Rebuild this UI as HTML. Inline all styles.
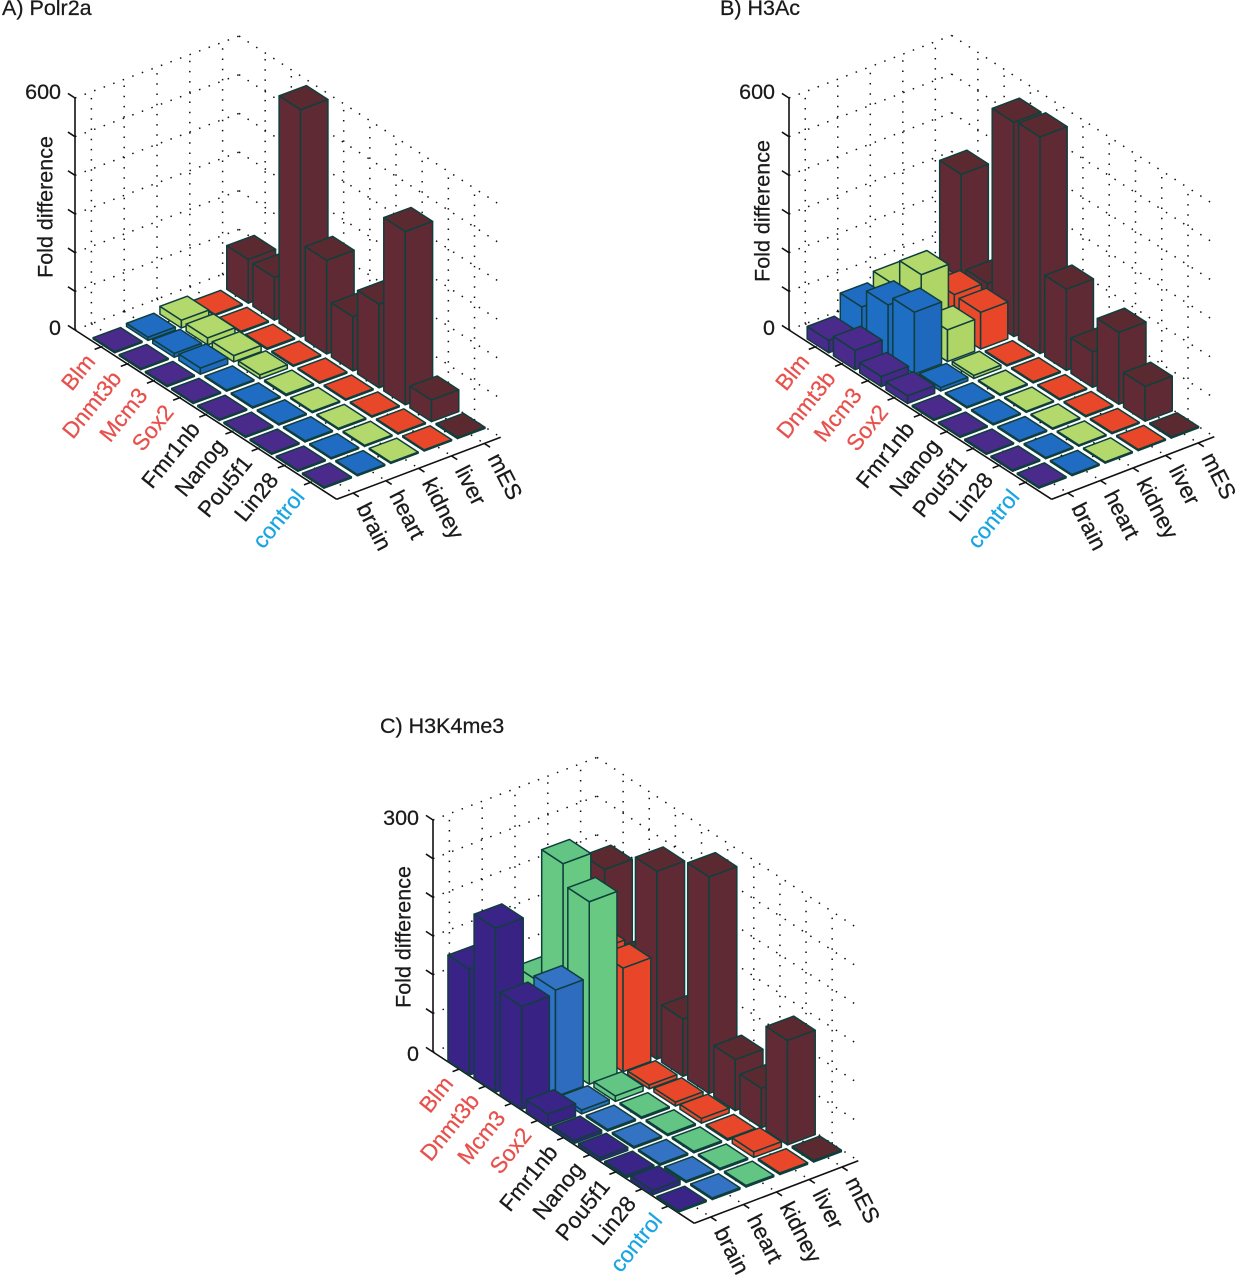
<!DOCTYPE html>
<html lang="en">
<head>
<meta charset="utf-8">
<title>Fold difference 3D bar charts</title>
<style>
html,body{margin:0;padding:0;background:#fff;}
body{width:1235px;height:1280px;overflow:hidden;}
svg{display:block;}
text{font-family:"Liberation Sans",sans-serif;fill:#1a1a1a;stroke:#1a1a1a;stroke-width:0.25;}
</style>
</head>
<body>
<svg id="figure" xmlns="http://www.w3.org/2000/svg" width="1235" height="1280" viewBox="0 0 1235 1280"></svg>
<script>
const genes = ["Blm","Dnmt3b","Mcm3","Sox2","Fmr1nb","Nanog","Pou5f1","Lin28","control"];
const tissues = ["brain","heart","kidney","liver","mES"];
const geneColors = ["#e8504c","#e8504c","#e8504c","#e8504c","#1a1a1a","#1a1a1a","#1a1a1a","#1a1a1a","#19a5e2"];

const polr2aBrain  = [3,3,3,3,3,3,3,3,3];
const polr2aHeart  = [8,10,16,3,3,3,3,3,3];
const polr2aKidney = [20,18,16,10,4,3,3,3,3];
const polr2aLiver  = [3,3,3,3,3,3,3,3,3];
const polr2aMes    = [113,110,588,242,140,216,448,56,3];

const h3acBrain  = [32,50,26,20,3,3,3,3,3];
const h3acHeart  = [86,135,160,9,3,3,3,3,3];
const h3acKidney = [110,181,82,8,3,3,3,3,3];
const h3acLiver  = [80,97,95,3,3,3,3,3,3];
const h3acMes    = [332,93,554,560,210,92,186,90,3];

const h3k4Brain  = [137,212,133,16,4,4,3,6,2];
const h3k4Heart  = [60,60,138,5,2,2,2,2,2];
const h3k4Kidney = [90,263,236,7,2,2,2,2,2];
const h3k4Liver  = [100,135,134,5,5,6,2,7,2];
const h3k4Mes    = [201,100,243,74,280,66,51,135,2];

const zTicksA = [0,100,200,300,400,500,600];
const zTicksC = [0,50,100,150,200,250,300];

const svg = document.getElementById('figure');
const NS = 'http://www.w3.org/2000/svg';

function make(tag, parent, attrs){
  const el = document.createElementNS(NS, tag);
  for (const k in attrs) el.setAttribute(k, attrs[k]);
  parent.appendChild(el);
  return el;
}

function drawPanel(cfg){
  const g = make('g', svg, {});
  
  
  const ux = (cfg.F[0]-cfg.L[0])/10, uy = (cfg.F[1]-cfg.L[1])/10;
  const vx = (cfg.R[0]-cfg.F[0])/5,  vy = (cfg.R[1]-cfg.F[1])/5;
  const zUnit = cfg.zPx/cfg.zMax;
  function px(i,j,z){ return [cfg.L[0]+i*ux+j*vx, cfg.L[1]+i*uy+j*vy-z*zUnit]; }
  function barPx(i,j,z){
    const p = px(i,j,z);
    return [p[0]+cfg.barShift[0]+cfg.barShift[1]*j, p[1]];
  }
  function line(a,b,attrs,name){
    const el = make('line', g, Object.assign({x1:a[0],y1:a[1],x2:b[0],y2:b[1]},attrs));
    
    
    return el;
  }
  const dot = {stroke:'#111','stroke-width':1.5,'stroke-dasharray':'1.5 8.7',fill:'none'};
  const ax = {stroke:'#111','stroke-width':1.6,fill:'none'};
  const topZ = cfg.zMax;

  // dotted grid on the two back walls and the floor
  cfg.zTicks.forEach(function(t){
    line(px(0,0,t),px(0,5,t),dot,'wall-gridline');
    line(px(0,5,t),px(10,5,t),dot,'wall-gridline');
  });
  genes.forEach(function(n,k){
    const i = k+1;
    line(px(i,5,0),px(i,5,topZ),dot,'wall-gridline');
    line(px(i,0,0),px(i,5,0),dot,'floor-gridline');
  });
  tissues.forEach(function(n,k){
    const j = k+0.5;
    line(px(0,j,0),px(0,j,topZ),dot,'wall-gridline');
    line(px(0,j,0),px(10,j,0),dot,'floor-gridline');
  });

  // axes
  line(px(0,0,0),px(0,0,topZ),ax,'z-axis-line');
  line(px(0,0,0),px(10,0,0),ax,'gene-axis-line');
  line(px(10,0,0),px(10,5,0),ax,'tissue-axis-line');
  cfg.zTicks.forEach(function(t){
    line(px(0,0,t),px(-0.27,0,t),ax,'z-axis-tick');
    const p = px(0,0,t);
    if (t === 0 || t === topZ){
      const tx = make('text', g, {x:p[0]-14,y:p[1]+(t===0?5:1)+cfg.labelDy,'font-size':21.5,'text-anchor':'end'});
      
      
      tx.textContent = String(t);
    }
  });
  genes.forEach(function(n,k){
    const i = k+1;
    const p = px(i,0,0);
    line(p,px(i,-0.2,0),ax,'gene-axis-tick');
    const x = p[0]-11, y = p[1]+10;
    const tx = make('text', g, {x:x,y:y,dy:'0.35em','font-size':22.5,'text-anchor':'end',transform:'rotate(-51 '+x+' '+y+')',style:'fill:'+geneColors[k]+';stroke:'+geneColors[k]});
    
    
    tx.textContent = n;
  });
  tissues.forEach(function(n,k){
    const j = k+0.5;
    const p = px(10,j,0);
    line(p,px(10.22,j,0),ax,'tissue-axis-tick');
    const x = p[0]+10, y = p[1]+11;
    const tx = make('text', g, {x:x,y:y,dy:'0.35em','font-size':22.5,'text-anchor':'start',transform:'rotate(63 '+x+' '+y+')'});
    
    
    tx.textContent = n;
  });

  // title and axis title
  const title = make('text', g, {x:cfg.title[0],y:cfg.title[1],'font-size':21.5});
  
  
  title.textContent = cfg.titleText;
  const yt = make('text', g, {x:cfg.yTitle[0],y:cfg.yTitle[1],'font-size':21.5,'text-anchor':'middle',dy:'0.35em',transform:'rotate(-90 '+cfg.yTitle[0]+' '+cfg.yTitle[1]+')'});
  
  
  yt.textContent = 'Fold difference';

  // bars: painter's order from back corner to the front corner
  const half = 0.41;
  for (let jj = tissues.length-1; jj >= 0; jj--){
    const vals = cfg.series[jj];
    const col = cfg.colors[jj];
    for (let k = 0; k < genes.length; k++){
      const i = k+1, j = jj+0.5, z = vals[k];
      const i0=i-half,i1=i+half,j0=j-half,j1=j+half;
      const bar = make('g', g, {});
      
      
      function face(pts,fill,name){
        const s = pts.map(function(p){return p[0].toFixed(2)+','+p[1].toFixed(2);}).join(' ');
        const el = make('polygon', bar, {points:s,fill:fill,stroke:cfg.edge,'stroke-width':1.5,'stroke-linejoin':'round'});
        
        
      }
      face([barPx(i0,j0,0),barPx(i1,j0,0),barPx(i1,j0,z),barPx(i0,j0,z)],col[1],'bar-left-face');
      face([barPx(i1,j0,0),barPx(i1,j1,0),barPx(i1,j1,z),barPx(i1,j0,z)],col[2],'bar-right-face');
      face([barPx(i0,j0,z),barPx(i1,j0,z),barPx(i1,j1,z),barPx(i0,j1,z)],col[0],'bar-top-face');
    }
  }
}

const lightGreen = ['#b3d86c','#b1d76a','#aed566'];
const red = ['#e9472a','#ea4a2b','#e94528'];
const maroon = ['#5b2a31','#612a34','#5f2a33'];
const blue = ['#1f6cc2','#1e6ec4','#1e69bd'];
const purple = ['#4a2b8b','#4a2a8a','#452888'];

drawPanel({
  key:'polr2a', titleText:'A) Polr2a', title:[2,15],
  L:[75,330], F:[336.7,499.3], R:[500.7,437.3], zPx:232, zMax:600,
  zTicks:zTicksA, yTitle:[45,207], edge:'#0f3f3c', labelDy:0, barShift:[-0.3,0.6],
  series:[polr2aBrain,polr2aHeart,polr2aKidney,polr2aLiver,polr2aMes],
  colors:[purple,blue,lightGreen,red,maroon]
});
drawPanel({
  key:'h3ac', titleText:'B) H3Ac', title:[720,15],
  L:[789,330], F:[1051.7,499.3], R:[1214.3,436.7], zPx:232, zMax:600,
  zTicks:zTicksA, yTitle:[762,211], edge:'#0f3f3c', labelDy:0, barShift:[-0.3,0.6],
  series:[h3acBrain,h3acHeart,h3acKidney,h3acLiver,h3acMes],
  colors:[purple,blue,lightGreen,red,maroon]
});
drawPanel({
  key:'h3k4me3', titleText:'C) H3K4me3', title:[380,733],
  L:[433,1052], F:[694.3,1223.3], R:[858.3,1160.7], zPx:232, zMax:300,
  zTicks:zTicksC, yTitle:[403,937], edge:'#0f3f3c', labelDy:4, barShift:[-3.5,1.0],
  series:[h3k4Brain,h3k4Heart,h3k4Kidney,h3k4Liver,h3k4Mes],
  colors:[['#3b2487','#3a2386','#382283'],['#3472c4','#2f72c8','#2e6cc0'],['#62c583','#66c883','#68ca82'],red,maroon]
});
</script>
</body>
</html>
